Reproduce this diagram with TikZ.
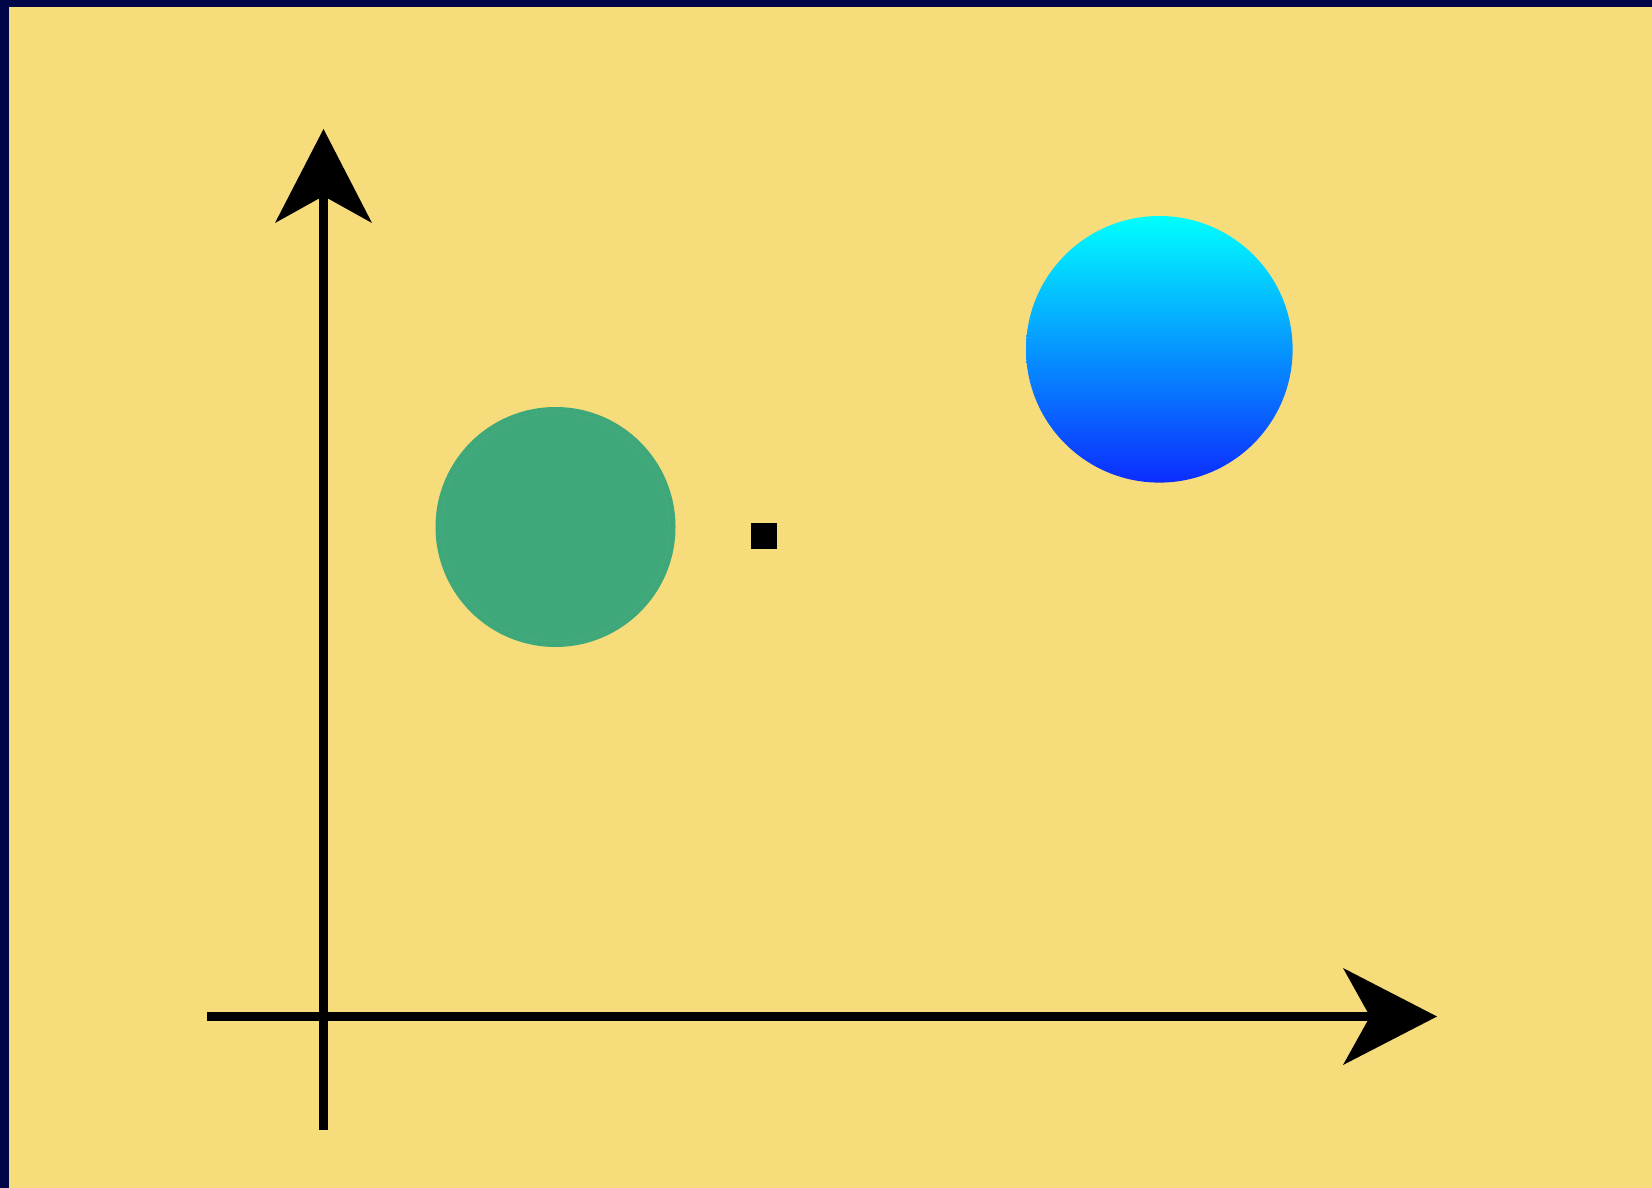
\documentclass[tikz,border=0pt]{standalone}
\usetikzlibrary{arrows.meta}
\definecolor{navy}{RGB}{0,4,72}
\definecolor{paper}{RGB}{246,220,123}
\definecolor{disc}{RGB}{62,168,123}
\definecolor{discring}{RGB}{74,172,123}
\definecolor{topcyan}{RGB}{0,255,255}
\definecolor{botblue}{RGB}{12,44,255}
\tikzset{
  axis/.style={line width=9pt, black},
  axtip/.style={-{Stealth[length=94pt,width=97pt,inset=27pt,line width=0pt]}},
}
\begin{document}
\begin{tikzpicture}[x=1pt,y=-1pt]
\useasboundingbox (0,0) rectangle (1652,1188);
\fill[navy] (0,0) rectangle (1652,1188);
\fill[paper] (9,7) rectangle (1652,1188);
% green disc
\coordinate (g) at (555.5,527);
\fill[disc] (g) circle [radius=120];
\draw[discring,line width=0.6pt] (g) circle [radius=114];
% blue disc with vertical gradient
\coordinate (b) at (1159.3,349.3);
\shade[top color=topcyan,bottom color=botblue] (b) circle [radius=133.3];
% small square
\fill[black] (750.7,523.3) rectangle (776.7,549.3);
% axes
\coordinate (ybot) at (323.5,1130);
\coordinate (ytop) at (323.5,129);
\coordinate (xleft) at (207,1016.5);
\coordinate (xright) at (1437,1016.5);
\draw[axis,axtip] (ybot) -- (ytop);
\draw[axis,axtip] (xleft) -- (xright);
\end{tikzpicture}
\end{document}
